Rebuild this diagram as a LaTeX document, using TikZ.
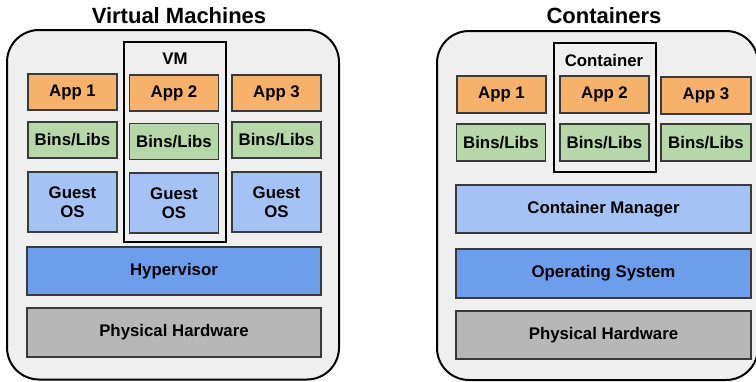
\documentclass[tikz,border=0pt]{standalone}
\usepackage{fontspec}
\setmainfont{Liberation Sans}
\usepackage{tikz}

\definecolor{appfill}{HTML}{F6B26B}
\definecolor{libfill}{HTML}{B6D7A8}
\definecolor{osfill}{HTML}{A4C2F4}
\definecolor{hvfill}{HTML}{6D9EEB}
\definecolor{hwfill}{HTML}{B7B7B7}
\definecolor{hostfill}{HTML}{EFEFEF}
\definecolor{edge}{HTML}{3A3A3A}

\begin{document}
\begin{tikzpicture}[x=1pt, y=-1pt,
        layer/.style={draw=edge, line width=1.3pt, inner sep=0pt, align=center,
            font=\bfseries\fontsize{16.8}{19}\selectfont},
        app/.style={layer, fill=appfill, minimum width=89pt, minimum height=36pt},
        libs/.style={layer, fill=libfill, minimum width=89pt, minimum height=36pt},
        guest/.style={layer, fill=osfill, minimum width=89pt, minimum height=60pt},
        wide/.style={layer, minimum width=295pt, minimum height=48pt},
        host/.style={draw=black, line width=2pt, fill=hostfill, rounded corners=32pt},
        group/.style={draw=black, line width=2pt},
        title/.style={font=\bfseries\fontsize{22}{25}\selectfont},
        tag/.style={font=\bfseries\fontsize{16.8}{19}\selectfont}]
        \useasboundingbox (0, 0) rectangle (756, 381);
        \clip (0, 0) rectangle (756, 381);

        % virtual machines
        \node[title] (vmtitle) at (179, 16) {Virtual Machines};
        \draw[host] (7, 30) rectangle (339, 379.5);
        \draw[group] (124, 42) rectangle (226, 242);
        \node[tag] (vmtag) at (175, 59) {VM};
        \node[app] (vapp1) at (72.5, 92) {App 1};
        \node[app] (vapp2) at (174, 93) {App 2};
        \node[app] (vapp3) at (276.5, 93) {App 3};
        \node[libs] (vlib1) at (72.5, 140) {Bins/Libs};
        \node[libs] (vlib2) at (174, 141.5) {Bins/Libs};
        \node[libs] (vlib3) at (276.5, 140) {Bins/Libs};
        \node[guest] (vos1) at (72.5, 202) {Guest\\OS};
        \node[guest] (vos2) at (174, 203) {Guest\\OS};
        \node[guest] (vos3) at (276.5, 202) {Guest\\OS};
        \node[wide, fill=hvfill, minimum width=294pt] (hyper) at (174, 271) {Hypervisor};
        \node[wide, fill=hwfill, minimum width=294pt, minimum height=49pt] (vhw) at (174, 332.5) {Physical Hardware};

        % containers
        \node[title] (cttitle) at (604, 16) {Containers};
        \draw[host] (437, 31) rectangle (758, 380);
        \draw[group] (554, 43) rectangle (656, 172);
        \node[tag] (cttag) at (604, 60) {Container};
        \node[app, minimum height=37pt] (capp1) at (501.5, 94.5) {App 1};
        \node[app, minimum height=37pt] (capp2) at (604.5, 94.5) {App 2};
        \node[app, minimum height=37pt, minimum width=90pt] (capp3) at (706, 95.5) {App 3};
        \node[libs, minimum height=37pt] (clib1) at (501, 142.5) {Bins/Libs};
        \node[libs, minimum height=37pt] (clib2) at (604.5, 142.5) {Bins/Libs};
        \node[libs, minimum height=37pt, minimum width=90pt] (clib3) at (706, 142.5) {Bins/Libs};
        \node[wide, fill=osfill] (manager) at (603.5, 209) {Container Manager};
        \node[wide, fill=hvfill, minimum height=49pt] (hostos) at (603.5, 273.5) {Operating System};
        \node[wide, fill=hwfill] (chw) at (603.5, 335) {Physical Hardware};
    \end{tikzpicture}
\end{document}
